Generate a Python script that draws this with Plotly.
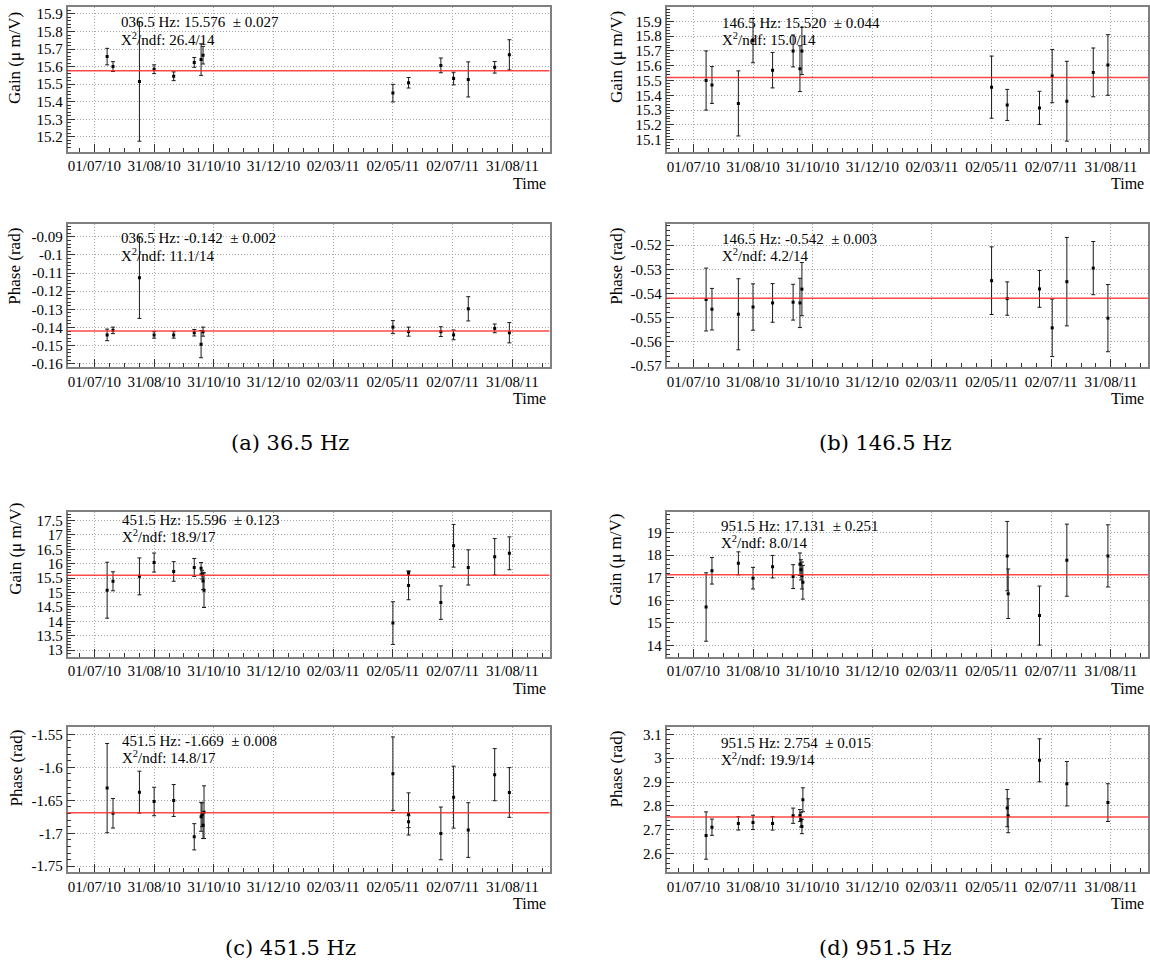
import plotly.graph_objects as go
import pandas as pd

W, H = 1150, 971
FONT = "Liberation Serif"

# ---------------- data ----------------
x_tick_labels = ["01/07/10", "31/08/10", "31/10/10", "31/12/10",
                 "02/03/11", "02/05/11", "02/07/11", "31/08/11"]
first_tick = "2010-07-01"
tick_step_days = 61

dates_36 = ["2010-07-14", "2010-07-20", "2010-08-16", "2010-08-31", "2010-09-20",
            "2010-10-11", "2010-10-18", "2010-10-20", "2011-05-02", "2011-05-18",
            "2011-06-20", "2011-07-03", "2011-07-18", "2011-08-14", "2011-08-29"]
gain_36 = [15.657, 15.600, 15.515, 15.585, 15.545, 15.624, 15.640, 15.665,
           15.449, 15.508, 15.607, 15.532, 15.527, 15.596, 15.667]
gain_36_err = [0.047, 0.028, 0.340, 0.025, 0.025, 0.028, 0.090, 0.050,
               0.050, 0.030, 0.042, 0.036, 0.100, 0.033, 0.086]
phase_36 = [-0.1441, -0.1416, -0.1125, -0.1441, -0.1441, -0.1429, -0.1492, -0.1423,
            -0.1398, -0.1423, -0.1423, -0.1441, -0.1297, -0.1405, -0.1429]
phase_36_err = [0.0032, 0.0018, 0.0225, 0.0018, 0.0018, 0.0018, 0.0075, 0.0025,
                0.0036, 0.0025, 0.0027, 0.0027, 0.0067, 0.0024, 0.0056]

dates_146 = ["2010-07-14", "2010-07-20", "2010-08-16", "2010-08-31", "2010-09-20",
             "2010-10-11", "2010-10-18", "2010-10-20", "2011-05-02", "2011-05-18",
             "2011-06-20", "2011-07-03", "2011-07-18", "2011-08-14", "2011-08-29"]
gain_146 = [15.50, 15.47, 15.345, 15.77, 15.57, 15.70, 15.58, 15.70,
            15.455, 15.335, 15.315, 15.53, 15.36, 15.555, 15.605]
gain_146_err = [0.20, 0.125, 0.22, 0.15, 0.12, 0.108, 0.155, 0.16,
                0.21, 0.105, 0.112, 0.18, 0.27, 0.165, 0.205]
phase_146 = [-0.5425, -0.5465, -0.5486, -0.5456, -0.5439, -0.5436, -0.5439, -0.5382,
             -0.5347, -0.5421, -0.5381, -0.5542, -0.5351, -0.5295, -0.5502]
phase_146_err = [0.013, 0.0086, 0.0147, 0.0096, 0.008, 0.0074, 0.0102, 0.011,
                 0.014, 0.0069, 0.0076, 0.0119, 0.0183, 0.011, 0.0139]

dates_451 = ["2010-07-14", "2010-07-20", "2010-08-16", "2010-08-31", "2010-09-20",
             "2010-10-11", "2010-10-18", "2010-10-19", "2010-10-20", "2010-10-21",
             "2011-05-02", "2011-05-18", "2011-05-18", "2011-06-20", "2011-07-03",
             "2011-07-18", "2011-08-14", "2011-08-29"]
gain_451 = [15.08, 15.39, 15.56, 16.04, 15.73, 15.87, 15.84, 15.62, 15.40, 15.08,
            13.94, 15.24, 15.67, 14.65, 16.62, 15.87, 16.24, 16.36]
gain_451_err = [0.97, 0.33, 0.64, 0.33, 0.34, 0.31, 0.20, 0.15, 0.30, 0.60,
                0.74, 0.49, 0.08, 0.58, 0.74, 0.61, 0.63, 0.57]
phase_451 = [-1.6315, -1.6697, -1.6376, -1.6518, -1.6503, -1.7053, -1.675, -1.672, -1.688, -1.668,
             -1.6096, -1.6707, -1.6824, -1.7002, -1.6452, -1.6951, -1.6111, -1.6381]
phase_451_err = [0.0677, 0.0224, 0.0318, 0.0216, 0.0242, 0.0199, 0.022, 0.018, 0.020, 0.040,
                 0.0557, 0.032, 0.009, 0.040, 0.047, 0.0415, 0.0395, 0.0377]

dates_951 = ["2010-07-14", "2010-07-20", "2010-08-16", "2010-08-31", "2010-09-20",
             "2010-10-11", "2010-10-18", "2010-10-19", "2010-10-20", "2010-10-21",
             "2011-05-18", "2011-05-19", "2011-06-20", "2011-07-18", "2011-08-29"]
gain_951 = [15.70, 17.31, 17.64, 16.98, 17.49, 17.05, 17.60, 17.35, 17.10, 16.80,
            17.96, 16.29, 15.32, 17.78, 17.97]
gain_951_err = [1.52, 0.59, 0.51, 0.48, 0.50, 0.53, 0.50, 0.45, 0.60, 0.75,
                1.54, 1.10, 1.31, 1.60, 1.38]
phase_951 = [2.676, 2.711, 2.727, 2.731, 2.727, 2.759, 2.760, 2.742, 2.714, 2.826,
             2.791, 2.759, 2.991, 2.893, 2.814]
phase_951_err = [0.099, 0.034, 0.028, 0.030, 0.028, 0.032, 0.025, 0.030, 0.030, 0.050,
                 0.078, 0.071, 0.090, 0.093, 0.079]

fit_gain_36, fit_phase_36 = 15.576, -0.142
fit_gain_146, fit_phase_146 = 15.520, -0.542
fit_gain_451, fit_phase_451 = 15.596, -1.669
fit_gain_951, fit_phase_951 = 17.131, 2.754

y_ticks_gain_36 = ["15.2", "15.3", "15.4", "15.5", "15.6", "15.7", "15.8", "15.9"]
y_ticks_phase_36 = ["-0.16", "-0.15", "-0.14", "-0.13", "-0.12", "-0.11", "-0.1", "-0.09"]
y_ticks_gain_146 = ["15.1", "15.2", "15.3", "15.4", "15.5", "15.6", "15.7", "15.8", "15.9"]
y_ticks_phase_146 = ["-0.57", "-0.56", "-0.55", "-0.54", "-0.53", "-0.52"]
y_ticks_gain_451 = ["13", "13.5", "14", "14.5", "15", "15.5", "16", "16.5", "17", "17.5"]
y_ticks_phase_451 = ["-1.75", "-1.7", "-1.65", "-1.6", "-1.55"]
y_ticks_gain_951 = ["14", "15", "16", "17", "18", "19"]
y_ticks_phase_951 = ["2.6", "2.7", "2.8", "2.9", "3", "3.1"]

stats = {
    "g36": ["036.5 Hz: 15.576\u00a0\u00a0± 0.027", "X<sup>2</sup>/ndf: 26.4/14"],
    "p36": ["036.5 Hz: -0.142\u00a0\u00a0± 0.002", "X<sup>2</sup>/ndf: 11.1/14"],
    "g146": ["146.5 Hz: 15.520\u00a0\u00a0± 0.044", "X<sup>2</sup>/ndf: 15.0/14"],
    "p146": ["146.5 Hz: -0.542\u00a0\u00a0± 0.003", "X<sup>2</sup>/ndf: 4.2/14"],
    "g451": ["451.5 Hz: 15.596\u00a0\u00a0± 0.123", "X<sup>2</sup>/ndf: 18.9/17"],
    "p451": ["451.5 Hz: -1.669\u00a0\u00a0± 0.008", "X<sup>2</sup>/ndf: 14.8/17"],
    "g951": ["951.5 Hz: 17.131\u00a0\u00a0± 0.251", "X<sup>2</sup>/ndf: 8.0/14"],
    "p951": ["951.5 Hz: 2.754\u00a0\u00a0± 0.015", "X<sup>2</sup>/ndf: 19.9/14"],
}
captions = ["(a) 36.5 Hz", "(b) 146.5 Hz", "(c) 451.5 Hz", "(d) 951.5 Hz"]

# ---------------- layout geometry (pixels) ----------------
LX0, LX1 = 67.5, 549.5
RX0, RX1 = 666.5, 1148.0
panels = [
    ("g36", dates_36, gain_36, gain_36_err, fit_gain_36, LX0, LX1, 6.5, 152.0,
     [15.115, 15.937], y_ticks_gain_36, 0.02, "Gain (μ m/V)", 9, 15, 119, 21, 38),
    ("p36", dates_36, phase_36, phase_36_err, fit_phase_36, LX0, LX1, 224.5, 369.0,
     [-0.1618, -0.0827], y_ticks_phase_36, 0.002, "Phase (rad)", 227, 15, 119, 239, 256),
    ("g146", dates_146, gain_146, gain_146_err, fit_gain_146, RX0, RX1, 6.5, 152.5,
     [15.015, 15.994], y_ticks_gain_146, 0.02, "Gain (μ m/V)", 8, 617, 720, 22, 38),
    ("p146", dates_146, phase_146, phase_146_err, fit_phase_146, RX0, RX1, 224.5, 369.0,
     [-0.5704, -0.5111], y_ticks_phase_146, 0.002, "Phase (rad)", 227, 617, 720, 240, 256),
    ("g451", dates_451, gain_451, gain_451_err, fit_gain_451, LX0, LX1, 515.0, 661.0,
     [12.78, 17.80], y_ticks_gain_451, 0.1, "Gain (μ m/V)", 504, 16, 120, 523, 539),
    ("p451", dates_451, phase_451, phase_451_err, fit_phase_451, LX0, LX1, 732.5, 878.0,
     [-1.7584, -1.5395], y_ticks_phase_451, 0.01, "Phase (rad)", 733, 16, 120, 746, 762),
    ("g951", dates_951, gain_951, gain_951_err, fit_gain_951, RX0, RX1, 515.0, 661.0,
     [13.50, 19.93], y_ticks_gain_951, 0.2, "Gain (μ m/V)", 515, 616, 719, 529, 545),
    ("p951", dates_951, phase_951, phase_951_err, fit_phase_951, RX0, RX1, 732.5, 878.0,
     [2.5245, 3.1285], y_ticks_phase_951, 0.02, "Phase (rad)", 733, 616, 719, 748, 764),
]

base = pd.Timestamp(first_tick)
x_tick_vals = [(base + pd.Timedelta(days=tick_step_days * k)).strftime("%Y-%m-%d")
               for k in range(len(x_tick_labels))]
x_range = [(base - pd.Timedelta(days=27.5)).strftime("%Y-%m-%d %H:%M"),
           (base + pd.Timedelta(days=465)).strftime("%Y-%m-%d %H:%M")]
minor_dtick_ms = tick_step_days / 4 * 86400000

fig = go.Figure()
annotations = []
shapes = []
layout = {}


def px(x):
    return x / W


def py(y):
    return 1 - y / H


GRID = dict(showgrid=True, gridcolor="#a6a6a6", griddash="1px,2px", gridwidth=1)
FRAME = dict(showline=True, mirror=True, linecolor="#808080", linewidth=1.5)

for i, (key, d, v, e, fit, x0, x1, y0, y1, yr, yt, ymin_dt, ytitle, ttop, tx, sx, sy1, sy2) in enumerate(panels, start=1):
    sfx = "" if i == 1 else str(i)
    xa, ya = "x" + sfx, "y" + sfx
    fig.add_trace(go.Scatter(
        x=d, y=v, mode="markers", xaxis=xa, yaxis=ya,
        marker=dict(symbol="square", size=3, color="black"),
        error_y=dict(type="data", array=e, visible=True, color="#1a1a1a",
                     thickness=1, width=2),
        showlegend=False, hoverinfo="x+y"))
    tick_font = dict(family=FONT, size=15, color="black")
    layout["xaxis" + sfx] = dict(
        domain=[px(x0), px(x1)], anchor=ya, type="date", range=x_range,
        tickmode="array", tickvals=x_tick_vals, ticktext=x_tick_labels,
        ticks="inside", ticklen=8, tickcolor="#333", tickwidth=1,
        minor=dict(ticks="inside", ticklen=4, tickcolor="#333", tickwidth=1,
                   tick0=first_tick, dtick=minor_dtick_ms, showgrid=False),
        tickfont=tick_font, zeroline=False, fixedrange=True, **GRID, **FRAME)
    yvals = [float(t) for t in yt]
    layout["yaxis" + sfx] = dict(
        domain=[py(y1), py(y0)], anchor=xa, range=yr,
        tickmode="array", tickvals=yvals, ticktext=yt,
        ticks="inside", ticklen=8, tickcolor="#333", tickwidth=1,
        minor=dict(ticks="inside", ticklen=4, tickcolor="#333", tickwidth=1,
                   tick0=yvals[0], dtick=ymin_dt, showgrid=False),
        tickfont=tick_font, zeroline=False, fixedrange=True, **GRID, **FRAME)
    shapes.append(dict(type="line", xref=xa + " domain", yref=ya,
                       x0=0, x1=1, y0=fit, y1=fit,
                       line=dict(color="rgba(255,40,40,0.85)", width=1.5), layer="above"))
    annotations.append(dict(text=ytitle, x=px(tx), y=py(ttop), xref="paper", yref="paper",
                            xanchor="center", yanchor="top", textangle=-90, showarrow=False,
                            font=dict(family=FONT, size=17, color="black")))
    annotations.append(dict(text="Time", x=px(x1 - 2), y=py(y1 + 32), xref="paper", yref="paper",
                            xanchor="right", yanchor="middle", showarrow=False,
                            font=dict(family=FONT, size=16, color="black")))
    for line, yy in zip(stats[key], (sy1, sy2)):
        annotations.append(dict(text=line, x=px(sx), y=py(yy), xref="paper", yref="paper",
                                xanchor="left", yanchor="middle", showarrow=False,
                                font=dict(family=FONT, size=15, color="black")))

caption_pos = [(290, 446), (885, 446), (290, 955), (885, 955)]
for cap, (cx, cy) in zip(captions, caption_pos):
    annotations.append(dict(text=cap, x=px(cx), y=py(cy), xref="paper", yref="paper",
                            xanchor="center", yanchor="middle", showarrow=False,
                            font=dict(family="DejaVu Serif", size=21, color="black")))

fig.update_layout(width=W, height=H, margin=dict(l=0, r=0, t=0, b=0),
                  paper_bgcolor="white", plot_bgcolor="white",
                  annotations=annotations, shapes=shapes, **layout)
fig.write_html("out.html")
